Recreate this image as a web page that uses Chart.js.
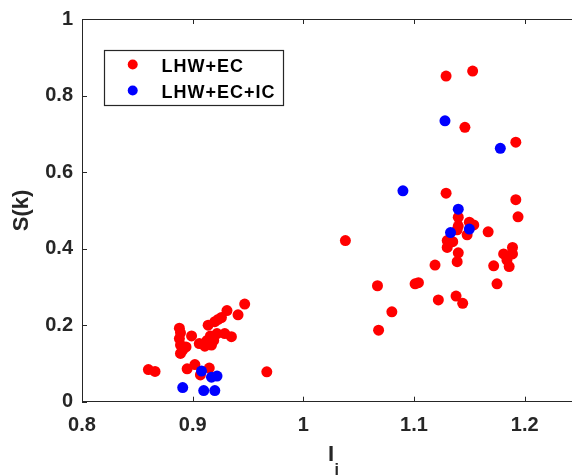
<!DOCTYPE html>
<html><head><meta charset="utf-8">
<script src="https://cdn.jsdelivr.net/npm/chart.js@4.4.1/dist/chart.umd.min.js"></script>
<style>
html,body{margin:0;padding:0;overflow:hidden;background:#fff;width:572px;height:476px}
#wrap{position:relative;width:600px;height:476px}
</style>
</head><body><div id="wrap"><canvas id="c" width="600" height="476"></canvas></div>
<script>
// ---- data ----
const seriesNames = ['LHW+EC', 'LHW+EC+IC'];
const xTicks = [0.8, 0.9, 1, 1.1, 1.2];
const yTicks = [0, 0.2, 0.4, 0.6, 0.8, 1];
const xTitle = 'I';
const xTitleSub = 'i';
const yTitle = 'S(k)';

const ecX = [0.860, 0.866, 0.888, 0.889, 0.888, 0.889, 0.894, 0.889, 0.891, 0.899,
             0.895, 0.902, 0.907, 0.915, 0.906, 0.911, 0.913, 0.914, 0.917, 0.916,
             0.920, 0.923, 0.922, 0.929, 0.931, 0.935, 0.941, 0.947, 0.967, 0.919, 0.926,
             1.038, 1.067, 1.068, 1.080, 1.101, 1.104, 1.119, 1.122, 1.129, 1.153,
             1.146, 1.192, 1.129, 1.192, 1.194, 1.140, 1.150, 1.154, 1.140, 1.139,
             1.148, 1.130, 1.135, 1.130, 1.167, 1.140, 1.139, 1.172, 1.189, 1.181,
             1.189, 1.184, 1.186, 1.175, 1.138, 1.144];
const ecY = [0.084, 0.079, 0.192, 0.180, 0.165, 0.148, 0.143, 0.126, 0.135, 0.172,
             0.086, 0.097, 0.070, 0.088, 0.152, 0.145, 0.160, 0.200, 0.148, 0.172,
             0.209, 0.215, 0.178, 0.178, 0.238, 0.170, 0.227, 0.255, 0.078, 0.160, 0.220,
             0.421, 0.303, 0.187, 0.235, 0.308, 0.311, 0.357, 0.266, 0.851, 0.864,
             0.717, 0.678, 0.545, 0.528, 0.483, 0.482, 0.469, 0.462, 0.459, 0.449,
             0.436, 0.421, 0.418, 0.403, 0.444, 0.389, 0.366, 0.355, 0.403, 0.386,
             0.386, 0.370, 0.353, 0.308, 0.276, 0.257];
const icX = [1.090, 1.128, 1.178, 1.140, 1.133, 1.150, 0.908, 0.917, 0.922, 0.891, 0.910, 0.920];
const icY = [0.551, 0.734, 0.662, 0.503, 0.442, 0.451, 0.080, 0.064, 0.067, 0.037, 0.029, 0.029];

const toPts = (xs, ys) => xs.map((x, i) => ({x: x, y: ys[i]}));
const AX = '#262626';
const FONT = "'Liberation Sans', Arial, Helvetica, sans-serif";

const fmt = v => String(+(+v).toFixed(1));

const matlabAxes = {
  id: 'matlabAxes',
  afterDatasetsDraw(chart) {
    const {ctx, chartArea: a, scales: {x, y}} = chart;
    ctx.save();
    ctx.strokeStyle = AX;
    ctx.lineWidth = 1;
    ctx.beginPath();
    ctx.moveTo(a.left, a.top + 0.5); ctx.lineTo(a.right, a.top + 0.5);
    const L = 5;
    xTicks.forEach(v => {
      const px = Math.round(x.getPixelForValue(v)) + 0.5;
      ctx.moveTo(px, a.bottom); ctx.lineTo(px, a.bottom - L);
      ctx.moveTo(px, a.top); ctx.lineTo(px, a.top + L);
    });
    yTicks.forEach(v => {
      const py = Math.round(y.getPixelForValue(v)) + 0.5;
      ctx.moveTo(a.left, py); ctx.lineTo(a.left + L, py);
    });
    ctx.stroke();

    // subscript of x title
    ctx.fillStyle = AX;
    ctx.font = "bold 22px " + FONT;
    const iw = ctx.measureText(xTitle).width;
    const cx = (a.left + a.right) / 2;
    ctx.font = "bold 16px " + FONT;
    ctx.textBaseline = 'alphabetic';
    ctx.textAlign = 'left';
    ctx.fillText(xTitleSub, cx + iw / 2 + 0.5, 475);

    // legend
    const bx = 104.5, by = 50.5, bw = 179, bh = 55;
    ctx.fillStyle = '#fff';
    ctx.fillRect(bx, by, bw, bh);
    ctx.strokeStyle = AX;
    ctx.lineWidth = 1.2;
    ctx.strokeRect(bx, by, bw, bh);
    const rows = [64.5, 90.5];
    chart.data.datasets.forEach((ds, i) => {
      ctx.beginPath();
      ctx.fillStyle = ds.backgroundColor;
      ctx.arc(132.7, rows[i], 5, 0, Math.PI * 2);
      ctx.fill();
      ctx.fillStyle = '#000';
      ctx.font = "bold 18px " + FONT;
      ctx.textBaseline = 'middle';
      ctx.textAlign = 'left';
      try { ctx.letterSpacing = '1px'; } catch (e) {}
      ctx.fillText(ds.label, 161.5, rows[i] + 2.5);
      try { ctx.letterSpacing = '0px'; } catch (e) {}
    });
    ctx.restore();
  }
};

new Chart(document.getElementById('c'), {
  type: 'scatter',
  data: {
    datasets: [
      {label: seriesNames[0], data: toPts(ecX, ecY), backgroundColor: '#ff0000',
       borderWidth: 0, pointRadius: 5.5, pointHoverRadius: 5.5, order: 1},
      {label: seriesNames[1], data: toPts(icX, icY), backgroundColor: '#0000ff',
       borderWidth: 0, pointRadius: 5.5, pointHoverRadius: 5.5, order: 0}
    ]
  },
  options: {
    responsive: false,
    animation: false,
    devicePixelRatio: 1,
    layout: {padding: {top: 19, right: 20, bottom: 0, left: 0}},
    plugins: {legend: {display: false}, tooltip: {enabled: false}},
    scales: {
      x: {
        type: 'linear', min: 0.8, max: 1.25,
        afterBuildTicks: s => { s.ticks = xTicks.map(v => ({value: v})); },
        afterFit: s => { s.height = 74.3; s.paddingLeft = 0; s.paddingRight = 0; },
        grid: {display: false, drawTicks: false},
        border: {display: true, color: AX, width: 1},
        ticks: {color: AX, padding: 12, maxRotation: 0, autoSkip: false,
                font: {family: FONT, size: 20, weight: 'bold'}, callback: fmt},
        title: {display: true, text: xTitle, color: AX, padding: {top: 0, bottom: 8},
                font: {family: FONT, size: 22, weight: 'bold'}}
      },
      y: {
        type: 'linear', min: 0, max: 1,
        afterBuildTicks: s => { s.ticks = yTicks.map(v => ({value: v})); },
        afterFit: s => { s.width = 82; s.paddingTop = 0; s.paddingBottom = 0; },
        grid: {display: false, drawTicks: false},
        border: {display: true, color: AX, width: 1},
        ticks: {color: AX, padding: 9, autoSkip: false,
                font: {family: FONT, size: 20, weight: 'bold'}, callback: fmt},
        title: {display: true, text: yTitle, color: AX, padding: {top: 9, bottom: 0},
                font: {family: FONT, size: 22, weight: 'bold'}}
      }
    }
  },
  plugins: [matlabAxes]
});
</script>
</body></html>
